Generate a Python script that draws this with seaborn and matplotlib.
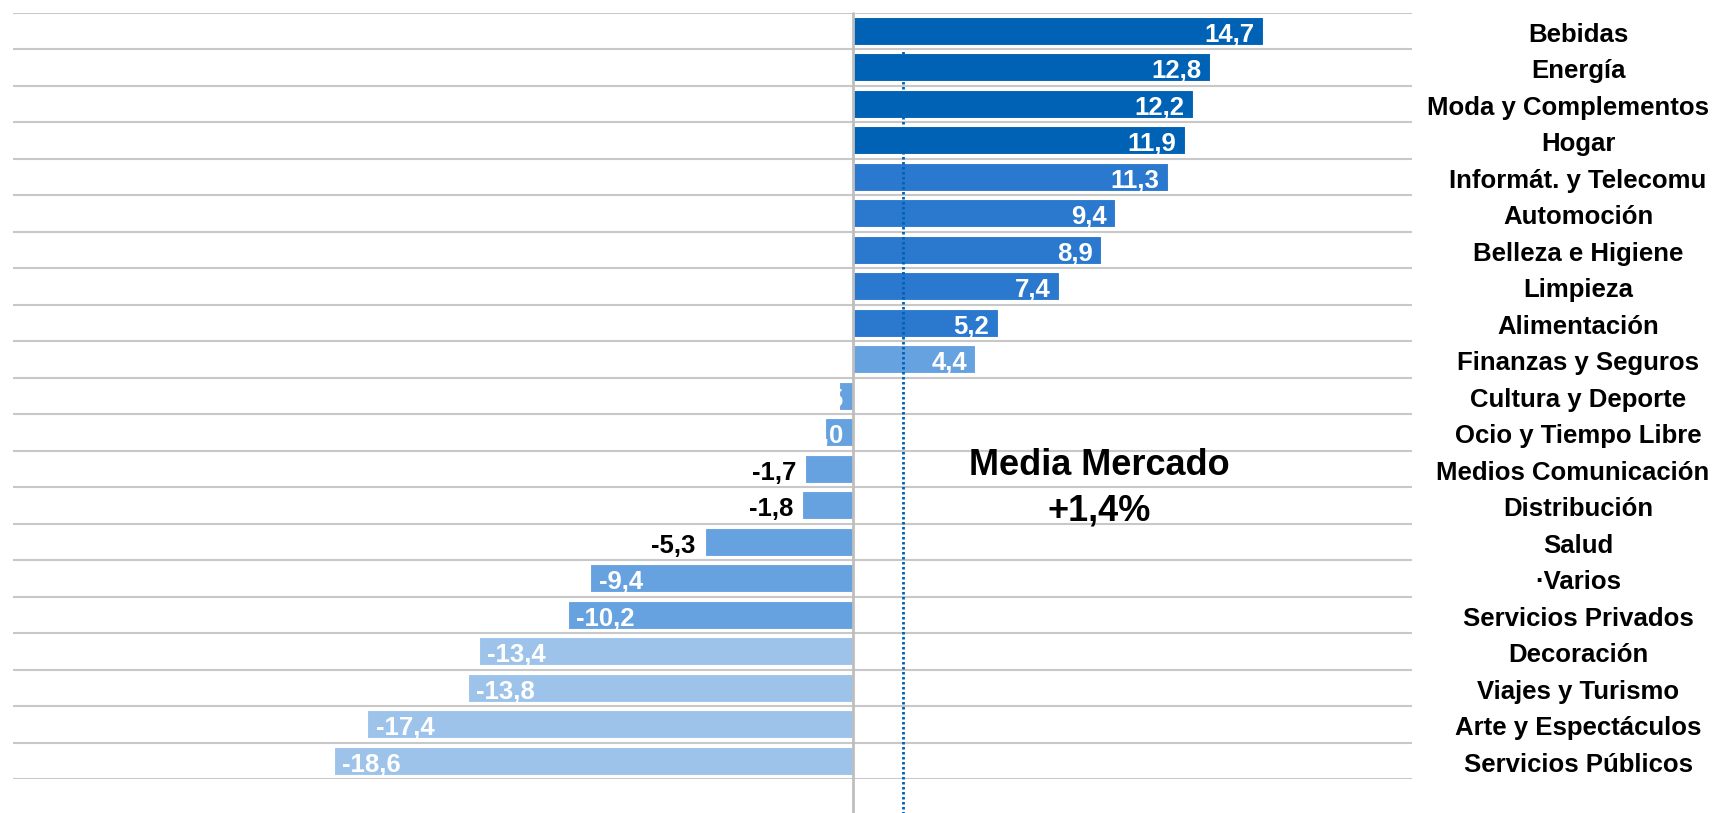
import numpy as np
import matplotlib
matplotlib.use("Agg")
import matplotlib.pyplot as plt
import seaborn as sns

categorias = [
    "Bebidas", "Energía", "Moda y Complementos", "Hogar", "Informát. y Telecomu",
    "Automoción", "Belleza e Higiene", "Limpieza", "Alimentación", "Finanzas y Seguros",
    "Cultura y Deporte", "Ocio y Tiempo Libre", "Medios Comunicación", "Distribución",
    "Salud", "·Varios", "Servicios Privados", "Decoración", "Viajes y Turismo",
    "Arte y Espectáculos", "Servicios Públicos",
]
valores = [14.7, 12.8, 12.2, 11.9, 11.3, 9.4, 8.9, 7.4, 5.2, 4.4,
           -0.5, -1.0, -1.7, -1.8, -5.3, -9.4, -10.2, -13.4, -13.8, -17.4, -18.6]

media_texto = ["Media Mercado", "+1,4%"]
media_linea = 1.8  # posicion de la linea punteada tal como aparece en el grafico

OSCURO = "#0062B5"
MEDIO = "#2B79CE"
CLARO = "#66A2E0"
MUY_CLARO = "#9EC3EB"
colores = [OSCURO] * 4 + [MEDIO] * 5 + [CLARO] * 8 + [MUY_CLARO] * 4

sns.set_style("white")
plt.rcParams["font.family"] = ["Liberation Sans", "DejaVu Sans"]
plt.rcParams["font.weight"] = "bold"

W, H = 1715, 813
fig = plt.figure(figsize=(W / 100, H / 100), dpi=100)
ax = fig.add_axes([13 / W, 1 - 779 / H, 1399 / W, (779 - 12.7) / H])

sns.barplot(x=valores, y=categorias, hue=categorias, palette=colores, legend=False,
            orient="h", width=0.77, saturation=1, edgecolor="white", linewidth=0.8,
            ax=ax, zorder=2)

n = len(categorias)
ax.set_xlim(-30.1, 20.05)
ax.set_ylim(n - 0.5, -0.5)

# lineas de separacion entre filas
ax.set_yticks(np.arange(-0.5, n, 1), minor=True)
ax.grid(which="minor", axis="y", color="#C8C8C8", linewidth=1.5, zorder=0)
ax.grid(which="major", visible=False)
ax.set_axisbelow(True)
ax.tick_params(which="both", left=False, bottom=False, labelleft=False, labelbottom=False)
for s in ax.spines.values():
    s.set_visible(False)
ax.set_xlabel("")
ax.set_ylabel("")

# eje del cero y linea de la media
ax.axvline(0, ymin=-0.06, ymax=1, color="#BEBEBE", linewidth=2, clip_on=False, zorder=4)
top_frac = (n - 0.5 - 0.5) / n
ax.axvline(media_linea, ymin=-0.06, ymax=top_frac, color=OSCURO, linewidth=2,
           linestyle=(0, (0.9, 0.9)), clip_on=False, zorder=5)

# etiquetas de valor
FS_VAL = 18.5
for i, v in enumerate(valores):
    txt = f"{v:.1f}".replace(".", ",")
    y = i + 0.3
    if v > 0:
        ax.annotate(txt, (v, y), xytext=(-6, 0), textcoords="offset points",
                    ha="right", va="baseline", color="white", fontsize=FS_VAL,
                    fontweight="bold", zorder=6)
    elif v > -1.1:
        ax.annotate(txt, (0, y), xytext=(-7, 0), textcoords="offset points",
                    ha="right", va="baseline", color="white", fontsize=FS_VAL,
                    fontweight="bold", zorder=6)
    elif v > -6:
        ax.annotate(txt, (v, y), xytext=(-6.5, 0), textcoords="offset points",
                    ha="right", va="baseline", color="black", fontsize=FS_VAL,
                    fontweight="bold", zorder=6)
    else:
        ax.annotate(txt, (v, y), xytext=(6, 0), textcoords="offset points",
                    ha="left", va="baseline", color="white", fontsize=FS_VAL,
                    fontweight="bold", zorder=6)

# nombres de sector a la derecha
trans = ax.get_yaxis_transform()
etiquetas = []
for i, c in enumerate(categorias):
    t = ax.text(1.1187, i + 0.3, c, transform=trans, ha="center", va="baseline",
                fontsize=18.5, fontweight="bold", color="black", clip_on=False)
    etiquetas.append(t)

ax.text(8.83, 12.16, media_texto[0], ha="center", va="baseline", fontsize=26,
        fontweight="bold", color="black", zorder=6)
ax.text(8.83, 13.42, media_texto[1], ha="center", va="baseline", fontsize=26,
        fontweight="bold", color="black", zorder=6)

# desplazar a la izquierda los nombres que no caben
fig.canvas.draw()
renderer = fig.canvas.get_renderer()
ax_bb = ax.get_window_extent(renderer)
for t in etiquetas:
    bb = t.get_window_extent(renderer)
    if bb.x1 > W - 6:
        shift = (bb.x1 - (W - 6)) / ax_bb.width
        x0, y0 = t.get_position()
        t.set_position((x0 - shift, y0))

fig.savefig("out.png", dpi=100, facecolor="white")
plt.close(fig)
